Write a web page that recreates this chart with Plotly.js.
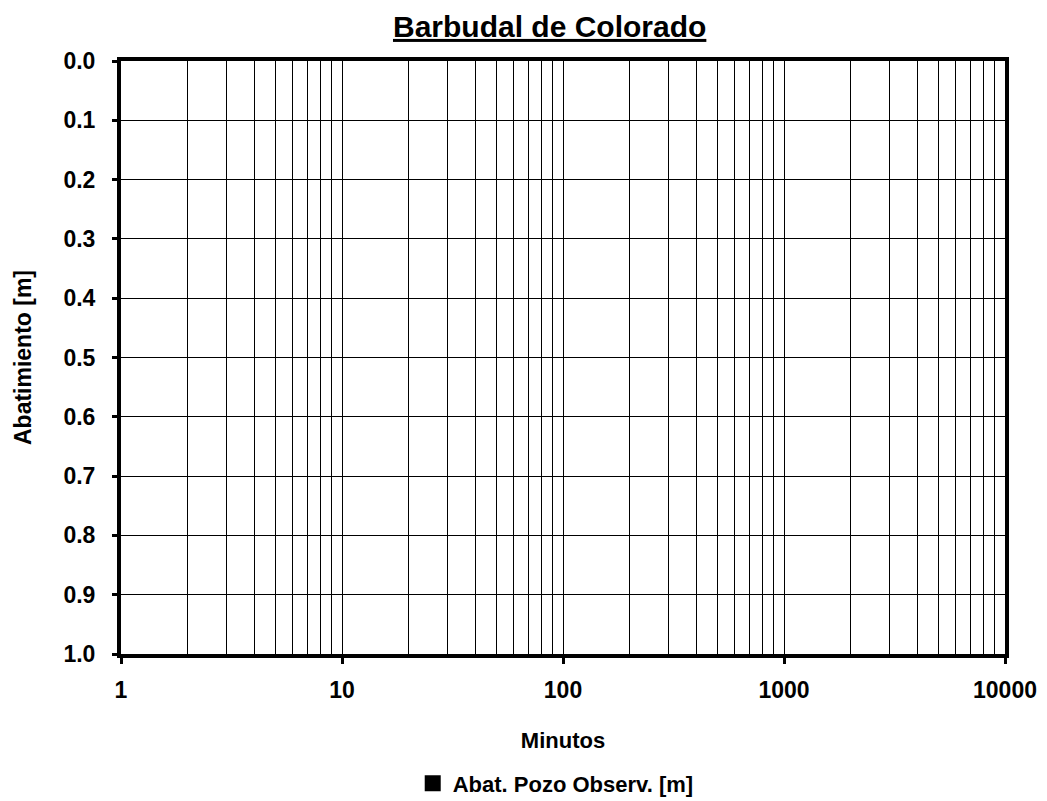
<!DOCTYPE html>
<html>
<head>
<meta charset="utf-8">
<script src="https://cdn.plot.ly/plotly-3.0.1.min.js"></script>
<style>html,body{margin:0;padding:0;background:#fff;}#chart{width:1047px;height:801px;}</style>
</head>
<body>
<div id="chart"></div>
<script>
// Data (the reference shows no plotted observations)
const minutos = [null];
const abatimiento = [null];
const xTickVals = [1, 10, 100, 1000, 10000];
const xTickText = ['1', '10', '100', '1000', '10000'];
const yTickVals = [0, 0.1, 0.2, 0.3, 0.4, 0.5, 0.6, 0.7, 0.8, 0.9, 1.0];

const FONT = 'Liberation Sans, Arial, sans-serif';

const trace = {
  x: minutos,
  y: abatimiento,
  type: 'scatter',
  mode: 'markers',
  name: 'Abat. Pozo Observ. [m]',
  marker: {symbol: 'square', color: 'black', size: 16},
  showlegend: true
};

const layout = {
  width: 1047, height: 801,
  paper_bgcolor: 'white', plot_bgcolor: 'white',
  margin: {l: 121, r: 42, t: 61, b: 147},
  font: {family: FONT, color: 'black'},
  title: {
    text: '<u>Barbudal de Colorado</u>',
    font: {family: FONT, size: 30, color: 'black', weight: 'bold'},
    x: 0.525, xanchor: 'center', y: 0.967, yanchor: 'middle'
  },
  xaxis: {
    type: 'log', range: [0, 4],
    tickvals: xTickVals, ticktext: xTickText,
    tickfont: {family: FONT, size: 23, color: 'black', weight: 'bold'},
    ticks: 'outside', ticklen: 6, tickwidth: 3, tickcolor: 'black',
    ticklabelstandoff: 6,
    showline: true, linewidth: 4, linecolor: 'black', mirror: true,
    showgrid: true, gridcolor: 'black', gridwidth: 1,
    minor: {dtick: 'D1', showgrid: true, gridcolor: 'black', gridwidth: 1, ticks: ''},
    zeroline: false,
    title: {text: 'Minutos', font: {family: FONT, size: 22, color: 'black', weight: 'bold'}, standoff: 32}
  },
  yaxis: {
    range: [1, 0],
    tickvals: yTickVals, tickformat: '.1f',
    tickfont: {family: FONT, size: 23, color: 'black', weight: 'bold'},
    ticks: 'outside', ticklen: 5, tickwidth: 3, tickcolor: 'black',
    ticklabelstandoff: 12,
    showline: true, linewidth: 4, linecolor: 'black', mirror: true,
    showgrid: true, gridcolor: 'black', gridwidth: 1,
    zeroline: false,
    title: {text: 'Abatimiento [m]', font: {family: FONT, size: 23, color: 'black', weight: 'bold'}, standoff: 26}
  },
  showlegend: true,
  legend: {
    orientation: 'h', xref: 'paper', x: 0.330, xanchor: 'left',
    yref: 'container', y: 0.022, yanchor: 'middle',
    font: {family: FONT, size: 22, color: 'black', weight: 'bold'},
    itemwidth: 30
  }
};

Plotly.newPlot('chart', [trace], layout, {displayModeBar: false, staticPlot: true});
</script>
</body>
</html>
